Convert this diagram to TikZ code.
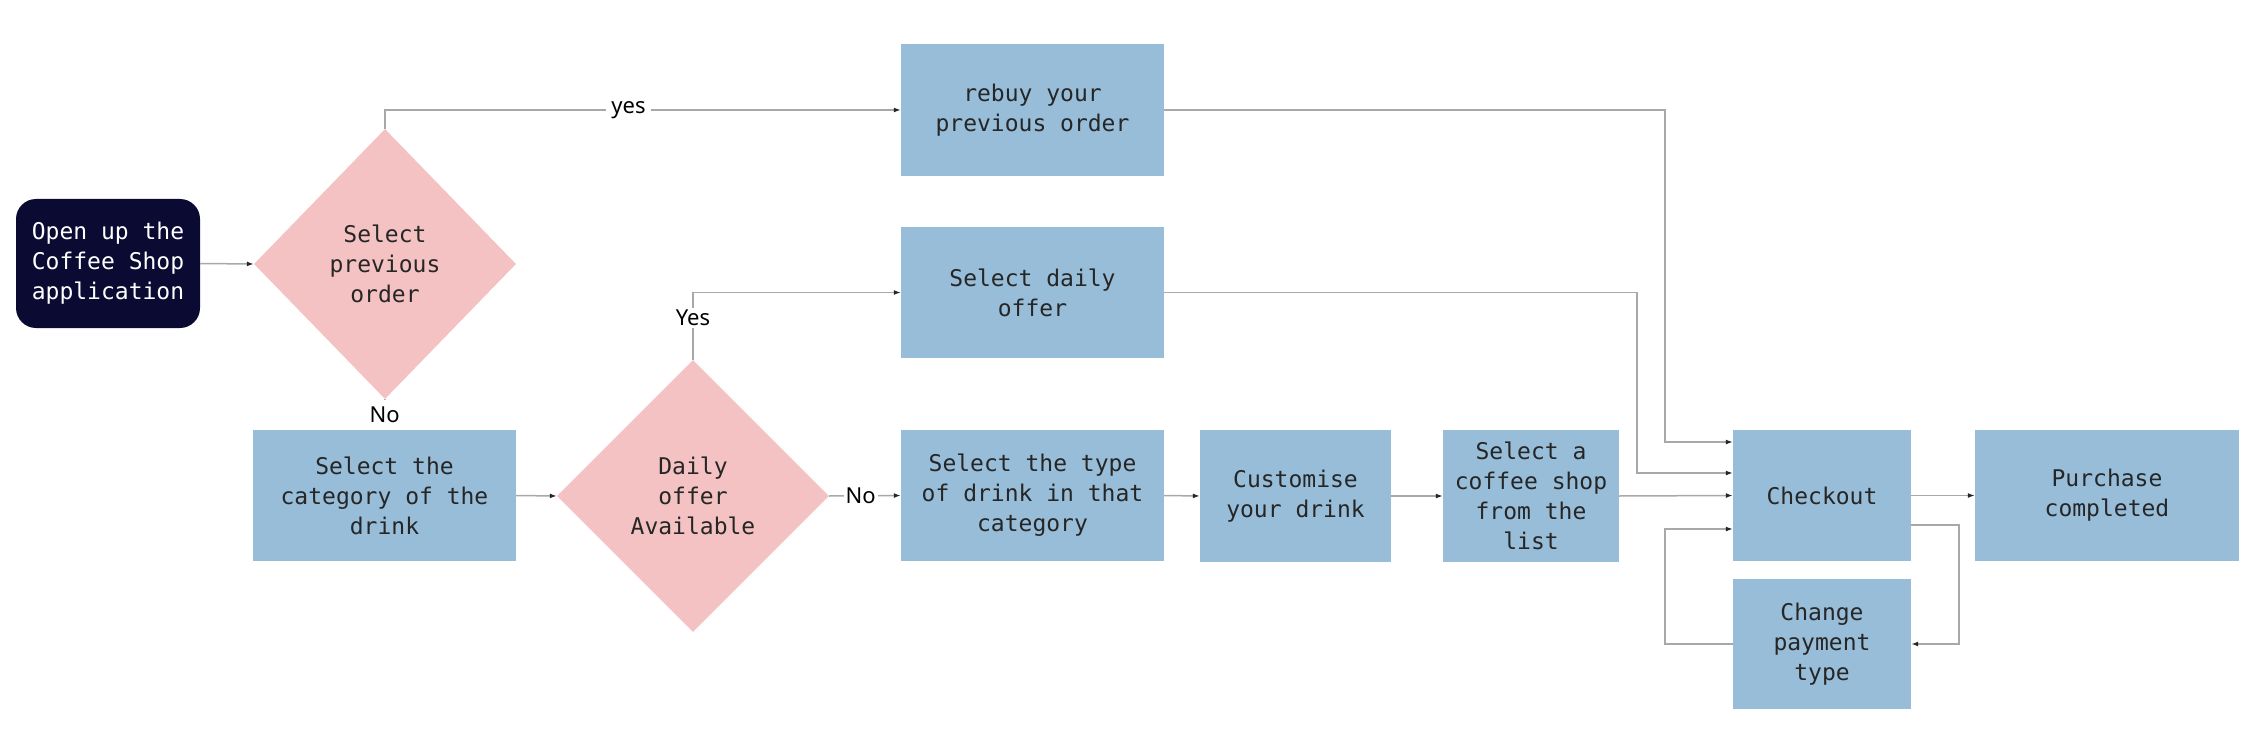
\documentclass[tikz,border=0pt]{standalone}
\usepackage{fontspec}
\setmonofont{DejaVu Sans Mono}
\setsansfont{Noto Sans}
\usetikzlibrary{shapes.geometric,arrows.meta}
\definecolor{boxblue}{HTML}{97BDD8}
\definecolor{pinkd}{HTML}{F4C2C2}
\definecolor{navy}{HTML}{0B0A33}
\definecolor{linegray}{HTML}{A8A8A8}
\definecolor{txt}{HTML}{262626}
\begin{document}
\begin{tikzpicture}[x=1pt,y=-1pt,
  boxtxt/.style={font=\ttfamily\fontsize{23}{30}\selectfont},
  box/.style={rectangle, fill=boxblue, inner sep=0pt, align=center, boxtxt, text=txt},
  dia/.style={diamond, fill=pinkd, inner sep=0pt, align=center, boxtxt, text=txt},
  conn/.style={draw=linegray, line width=1.5pt, -{Latex[length=7pt,width=5pt,color=black!85]}},
  lbl/.style={font=\sffamily\fontsize{22}{26}\selectfont, fill=white, inner sep=5pt, text=black}]
\path[fill=white, use as bounding box] (0,0) rectangle (2268,754);

\node[rectangle, rounded corners=20pt, fill=navy, text=white, align=center, boxtxt,
      minimum width=184pt, minimum height=129pt, inner sep=0pt] (start) at (108,263.5)
      {Open up the\\Coffee Shop\\application};
\node[dia, minimum width=262pt, minimum height=270pt] (d1) at (385,264) {Select\\previous\\order};
\node[box, minimum width=263pt, minimum height=132pt] (rebuy) at (1032.5,110) {rebuy your\\previous order};
\node[box, minimum width=263pt, minimum height=131pt] (daily) at (1032.5,292.5) {Select daily\\offer};
\node[box, minimum width=263pt, minimum height=131pt] (cat) at (384.5,495.5) {Select the\\category of the\\drink};
\node[dia, minimum width=272pt, minimum height=272pt] (d2) at (693,496) {Daily\\offer\\Available};
\node[box, minimum width=263pt, minimum height=131pt] (type) at (1032.5,495.5) {Select the type\\of drink in that\\category};
\node[box, minimum width=191pt, minimum height=132pt] (cust) at (1295.5,496) {Customise\\your drink};
\node[box, minimum width=176pt, minimum height=132pt] (shop) at (1531,496) {Select a\\coffee shop\\from the\\list};
\node[box, minimum width=178pt, minimum height=131pt] (checkout) at (1822,495.5) {Checkout};
\node[box, minimum width=264pt, minimum height=131pt] (purchase) at (2107,495.5) {Purchase\\completed};
\node[box, minimum width=178pt, minimum height=130pt] (change) at (1822,644) {Change\\payment\\type};

\draw[conn] (start.east) -- (d1.west);
\draw[conn] (d1.north) |- node[lbl, pos=0.736] {yes} (rebuy.west);
\draw[conn] (d1.south) -- node[lbl, inner sep=1pt, minimum height=30pt, minimum width=40pt] {No} (cat.north);
\draw[conn] (cat.east) -- (d2.west);
\draw[conn] (d2.north) |- node[lbl, pos=0.313, inner sep=2pt] {Yes} (daily.west);
\draw[conn] (d2.east) -- node[lbl, pos=0.44, inner sep=2pt] {No} (type.west);
\draw[conn] (type.east) -- (cust.west);
\draw[conn] (cust.east) -- (shop.west);
\draw[conn] (shop.east) -- (checkout.west);
\draw[conn] (rebuy.east) -- (1665,110) |- ([yshift=53.5pt]checkout.west);
\draw[conn] (daily.east) -- (1637,292.5) |- ([yshift=22.5pt]checkout.west);
\draw[conn] (checkout.east) -- (purchase.west);
\draw[conn] ([yshift=-29.5pt]checkout.east) -- (1959,525) |- (change.east);
\draw[conn] (change.west) -- (1665,644) |- ([yshift=-33.5pt]checkout.west);
\end{tikzpicture}
\end{document}
